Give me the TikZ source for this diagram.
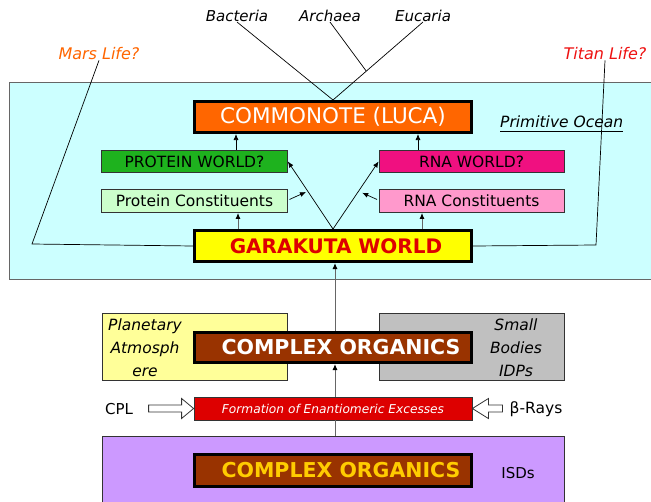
\documentclass[tikz,border=0pt]{standalone}
\usepackage{fontspec}
\setmainfont{DejaVu Sans}
\usetikzlibrary{arrows.meta,calc}
\definecolor{ocean}{HTML}{CCFFFF}
\definecolor{lucaC}{HTML}{FF6600}
\definecolor{pworldC}{HTML}{1EB21E}
\definecolor{rworldC}{HTML}{F01080}
\definecolor{pconC}{HTML}{CCFFCC}
\definecolor{rconC}{HTML}{FF99CC}
\definecolor{garaC}{HTML}{FFFF00}
\definecolor{redC}{HTML}{DD0000}
\definecolor{brownC}{HTML}{993300}
\definecolor{planC}{HTML}{FFFF99}
\definecolor{grayC}{HTML}{C0C0C0}
\definecolor{isdC}{HTML}{CC99FF}
\definecolor{goldC}{HTML}{FFCC00}
\definecolor{marsC}{HTML}{FF6600}
\definecolor{titanC}{HTML}{EE1111}
\newcommand\fsz[2]{\fontsize{#1pt}{#2pt}\selectfont}
\tikzset{
  thinbox/.style={draw=black!80, line width=0.8pt, inner sep=0pt, font=\fsz{15.5}{18}},
  thickbox/.style={draw=black, line width=3pt, inner sep=0pt, minimum width=277pt},
  lbl/.style={inner sep=0pt},
  arr/.style={-{Latex[length=6pt,width=5pt]}, line width=0.7pt},
  stemarr/.style={draw=black!60, line width=1pt, -{Latex[length=6pt,width=5pt,color=black]}},
  stem/.style={draw=black!60, line width=1pt},
  thinline/.style={line width=0.7pt},
  hollow/.style={draw=black!80, fill=white, line width=0.8pt}
}
\begin{document}
\begin{tikzpicture}[x=1pt,y=-1pt]
\useasboundingbox (0,0) rectangle (651,501);
\clip (0,0) rectangle (651,501);
\fill[white] (0,0) rectangle (651,501);
% ocean
\draw[draw=black!60, fill=ocean, line width=0.8pt] (9,82.5) rectangle (680,279);

% top labels
\node[lbl, font=\fsz{15}{18}\itshape] (bact) at (237,16) {Bacteria};
\node[lbl, font=\fsz{15}{18}\itshape] (arch) at (330,16) {Archaea};
\node[lbl, font=\fsz{15}{18}\itshape] (euc) at (423,16) {Eucaria};
\node[lbl, font=\fsz{16}{18}\itshape, text=marsC] (mars) at (99,54) {Mars Life?};
\node[lbl, font=\fsz{16}{18}\itshape, text=titanC] (titan) at (605,54) {Titan Life?};
\node[lbl, font=\fsz{15.5}{18}\itshape, anchor=base west] (po) at (500,127) {Primitive Ocean};
\draw[line width=0.8pt] ([yshift=-4pt]po.base west) -- ([yshift=-4pt]po.base east);

% boxes
\node[thickbox, fill=lucaC, minimum height=31pt, text=white, font=\fsz{21.5}{24}] (luca) at (333,117) {COMMONOTE (LUCA)};
\node[thinbox, fill=pworldC, minimum width=186pt, minimum height=22pt] (pworld) at (194.5,161.5) {PROTEIN WORLD?};
\node[thinbox, fill=rworldC, minimum width=185pt, minimum height=22pt] (rworld) at (471.5,161.5) {RNA WORLD?};
\node[thinbox, fill=pconC, minimum width=186pt, minimum height=23pt] (pcon) at (194.5,201) {Protein Constituents};
\node[thinbox, fill=rconC, minimum width=185pt, minimum height=23pt] (rcon) at (471.5,201) {RNA Constituents};
\node[thickbox, fill=garaC, minimum height=31pt, text=redC, font=\fsz{20}{24}\bfseries] (gara) at (333,246) {\hspace*{6pt}GARAKUTA WORLD};

% lower boxes
\node[thinbox, fill=planC, minimum width=185pt, minimum height=67pt] (plan) at (194.5,346.5) {};
\node[thinbox, fill=grayC, minimum width=185pt, minimum height=67pt] (small) at (471.5,346.5) {};
\node[lbl, align=center, font=\fsz{15.5}{23}\itshape] (plantxt) at (145,348) {Planetary\\Atmosph\\ere};
\node[lbl, align=center, font=\fsz{15.5}{23}\itshape] (smalltxt) at (516,348) {Small\\Bodies\\IDPs};
\node[thickbox, fill=brownC, minimum height=30pt, text=white, font=\fsz{20.5}{24}\bfseries] (comp1) at (333,347.5) {\hspace*{16pt}COMPLEX ORGANICS};
\node[thinbox, fill=redC, minimum width=278pt, minimum height=23pt, text=white, font=\fsz{12.2}{14}\itshape] (enant) at (333,408.5) {Formation of Enantiomeric Excesses};
\node[thinbox, fill=isdC, minimum width=462pt, minimum height=80pt, anchor=north] (isd) at (333,436) {};
\node[thickbox, fill=brownC, minimum height=32pt, text=goldC, font=\fsz{20.5}{24}\bfseries] (comp2) at (333,470.5) {\hspace*{16pt}COMPLEX ORGANICS};
\node[lbl, font=\fsz{15}{18}] (isdtxt) at (518,473) {ISDs};
\node[lbl, font=\fsz{15}{18}] (cpl) at (119,409) {CPL};
\node[lbl, font=\fsz{15.5}{18}] (beta) at (536,409) {β-Rays};

% hollow arrows
\draw[hollow] (enant.west) -- ++(-12,-10) -- ++(0,6.5) -- ++(-33,0) -- ++(0,7) -- ++(33,0) -- ++(0,6.5) -- cycle;
\draw[hollow] (enant.east) -- ++(16,-10) -- ++(0,6.5) -- ++(14,0) -- ++(0,7) -- ++(-14,0) -- ++(0,6.5) -- cycle;

% tree lines
\draw[thinline] (bact.south) -- (luca.north);
\draw[thinline] (euc.south) -- (luca.north);
\coordinate (archend) at ($(euc.south)!0.63!(luca.north)$);
\draw[thinline] (arch.south) -- (archend);

% mars / titan
\coordinate (marscorner) at (32,244);
\coordinate (titancorner) at (596,245);
\draw[thinline] (mars.south) -- (marscorner) -- (gara.west);
\draw[thinline] (titan.south) -- (titancorner) -- (gara.east);

% arrows in ocean
\draw[arr] ([xshift=41.5pt]pworld.north) -- ([xshift=41.5pt]pworld.north |- luca.south);
\draw[arr] ([xshift=-53.5pt]rworld.north) -- ([xshift=-53.5pt]rworld.north |- luca.south);
\draw[stemarr] ([xshift=-95pt]gara.north) -- ([xshift=-95pt]gara.north |- pcon.south);
\draw[stemarr] ([xshift=89pt]gara.north) -- ([xshift=89pt]gara.north |- rcon.south);
\draw[arr] (gara.north) -- (pworld.east);
\draw[arr] (gara.north) -- (rworld.west);
\coordinate (lmid) at ($(gara.north)!0.56!(pworld.east)$);
\coordinate (rmid) at ($(gara.north)!0.56!(rworld.west)$);
\draw[arr, shorten >=2pt] ([xshift=1.5pt,yshift=1.5pt]pcon.east) -- (lmid);
\draw[arr, shorten >=4pt] ([xshift=-1.5pt,yshift=1.5pt]rcon.west) -- (rmid);

% lower stems
\draw[stemarr] ([xshift=2pt]comp1.north) -- ([xshift=2pt]gara.south);
\draw[stemarr] ([xshift=2pt]enant.north) -- ([xshift=2pt]comp1.south);
\draw[stem] ([xshift=2pt]isd.north) -- ([xshift=2pt]enant.south);
\end{tikzpicture}
\end{document}
